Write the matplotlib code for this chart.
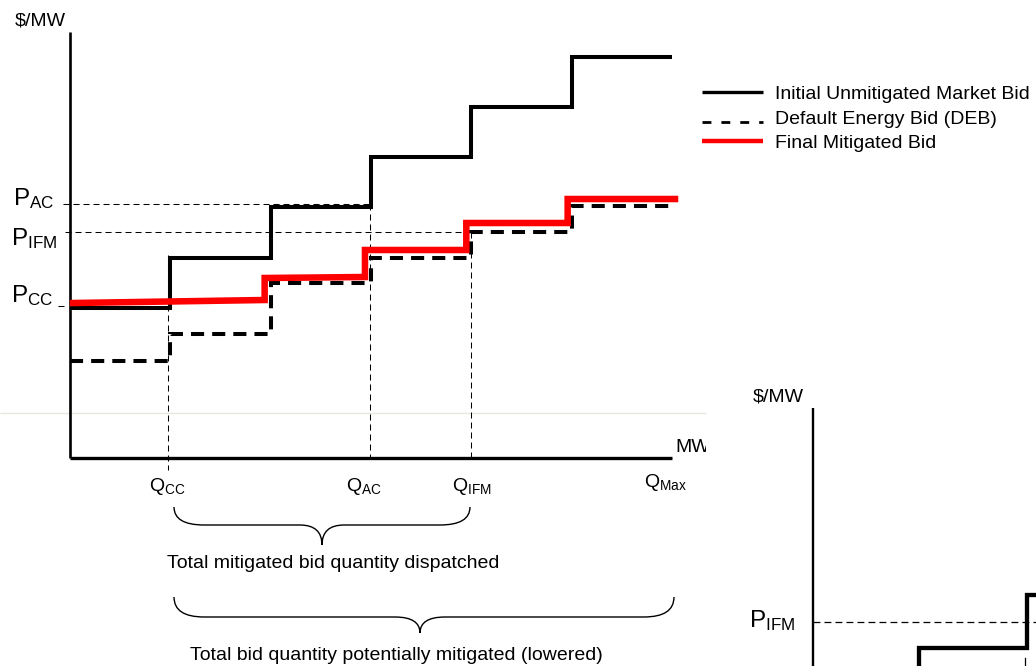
import matplotlib
matplotlib.use("Agg")
import matplotlib.pyplot as plt
import matplotlib.transforms as mtransforms
from matplotlib.path import Path
from matplotlib.patches import PathPatch

plt.rcParams['font.family'] = ['Liberation Sans', 'DejaVu Sans']
plt.rcParams['mathtext.default'] = 'regular'

# ---------------- data (quantity in MW steps, price in $/MW) ----------------
q_breaks = [0, 1, 2, 3, 4, 5, 6]
initial_bid = [30, 40, 50.2, 60.2, 70.2, 80.2]     # Initial Unmitigated Market Bid
deb_bid = [19.4, 24.8, 35, 40, 45.2, 50.4]         # Default Energy Bid (DEB)
red_q = [0.03, 1.94, 2.94, 3.95, 4.96, 6.03]       # Final Mitigated Bid step edges
red_start = [31.0, 36.0, 41.6, 47.0, 51.8]
red_end = [31.6, 36.2, 41.6, 47.0, 51.8]

q_cc, q_ac, q_ifm, q_max = 0.98, 2.99, 4.0, 6.0
p_cc, p_ac, p_ifm = 30.4, 50.8, 45.2

legend_labels = ["Initial Unmitigated Market Bid", "Default Energy Bid (DEB)", "Final Mitigated Bid"]
brace_labels = ["Total mitigated bid quantity dispatched",
                "Total bid quantity potentially mitigated (lowered)"]

# second (partially visible) diagram
inset_axis_q = 7.405
inset_q = [8.46, 9.54, 9.75]
inset_p = [-38.0, -27.4]
inset_p_ifm = -32.8

# ---------------- frame mapping ----------------
W, H = 1036, 666
X0, Y0, SX, SY = 70, 458, 100.33, 5.0


def qd(px):
    return (px - X0) / SX


def pd(py):
    return (Y0 - py) / SY


fig = plt.figure(figsize=(W / 100, H / 100), dpi=100)
ax = fig.add_axes([0, 0, 1, 1])
ax.set_xlim(qd(0), qd(W))
ax.set_ylim(pd(H), pd(0))
ax.axis('off')

# faint slide border line
ax.plot([qd(0), qd(706)], [pd(413), pd(413)], color='#e8e6dd', lw=1.0, solid_capstyle='butt')

# axes of main diagram
ax.plot([0, 0], [0, pd(32)], color='black', lw=1.9, solid_capstyle='butt')
ax.plot([0, q_max], [0, 0], color='black', lw=2.4, solid_capstyle='butt')

# reference dashed lines
thin = dict(color='black', lw=0.75, dashes=(5.8, 3.8))
ax.plot([qd(63), q_ac], [p_ac, p_ac], **thin)
ax.plot([qd(65), q_ifm], [p_ifm, p_ifm], **thin)
ax.plot([qd(58), qd(64)], [p_cc, p_cc], color='black', lw=0.75, solid_capstyle='butt')
ax.plot([q_cc, q_cc], [pd(255), pd(470)], **thin)
ax.plot([q_ac, q_ac], [p_ac, 0], **thin)
ax.plot([q_ifm, q_ifm], [p_ifm, pd(462)], **thin)

# bids
ax.stairs(deb_bid, q_breaks, baseline=None, color='black', lw=2.9,
          linestyle=(0, (3.25, 2.0)))
ax.stairs(initial_bid, q_breaks, baseline=None, color='black', lw=2.9)
rx, ry = [], []
for i in range(len(red_start)):
    rx += [red_q[i], red_q[i + 1]]
    ry += [red_start[i], red_end[i]]
ax.plot(rx, ry, color='#ff0000', lw=4.7, solid_joinstyle='miter')

# axis labels
fs = 14
ax.text(qd(15), pd(26), r'\$/MW', fontsize=fs, ha='left', va='baseline')
mw = ax.text(qd(675), pd(452), 'MW', fontsize=fs, ha='left', va='baseline')
mw.set_clip_box(mtransforms.TransformedBbox(
    mtransforms.Bbox.from_extents(qd(0), pd(H), qd(706), pd(0)), ax.transData))
mw.set_clip_on(True)

fsP = 17.5
ax.text(qd(13), pd(205), r'$P_{AC}$', fontsize=fsP, ha='left', va='baseline')
ax.text(qd(11), pd(245), r'$P_{IFM}$', fontsize=fsP, ha='left', va='baseline')
ax.text(qd(11), pd(302), r'$P_{CC}$', fontsize=fsP, ha='left', va='baseline')

fsQ = 14
ax.text(qd(149), pd(491), r'$Q_{CC}$', fontsize=fsQ, ha='left', va='baseline')
ax.text(qd(346), pd(491), r'$Q_{AC}$', fontsize=fsQ, ha='left', va='baseline')
ax.text(qd(452), pd(491), r'$Q_{IFM}$', fontsize=fsQ, ha='left', va='baseline')
ax.text(qd(644), pd(487), r'$Q_{Max}$', fontsize=fsQ, ha='left', va='baseline')

# legend
lx = [qd(702), qd(763)]
ax.plot(lx, [pd(92)] * 2, color='black', lw=2.4, solid_capstyle='butt')
ax.plot(lx, [pd(122)] * 2, color='black', lw=2.0, linestyle=(0, (3.2, 3.6)))
ax.plot(lx, [pd(141)] * 2, color='#ff0000', lw=3.2, solid_capstyle='butt')
for lab, b in zip(legend_labels, [99, 124, 148]):
    ax.text(qd(775), pd(b), lab, fontsize=fs, ha='left', va='baseline')


# braces
def brace(q0, q1, qm, ptop, pflat, ptip, r_end, r_tip):
    verts = [(q0, ptop), (q0, pflat), (q0 + r_end, pflat),
             (qm - r_tip, pflat), (qm, pflat), (qm, ptip),
             (qm, pflat), (qm + r_tip, pflat),
             (q1 - r_end, pflat), (q1, pflat), (q1, ptop)]
    codes = [Path.MOVETO, Path.CURVE3, Path.CURVE3, Path.LINETO,
             Path.CURVE3, Path.CURVE3, Path.CURVE3, Path.CURVE3,
             Path.LINETO, Path.CURVE3, Path.CURVE3]
    ax.add_patch(PathPatch(Path(verts, codes), fill=False, lw=1.0, edgecolor='black'))


brace(qd(174), qd(470), qd(322), pd(507), pd(525), pd(545), 0.30, 0.22)
brace(qd(174), qd(674), qd(420), pd(597), pd(617), pd(633), 0.30, 0.25)
ax.text(qd(167), pd(568), brace_labels[0], fontsize=fs, ha='left', va='baseline')
ax.text(qd(190), pd(660), brace_labels[1], fontsize=fs, ha='left', va='baseline')

# second diagram (partially visible)
ax.plot([inset_axis_q, inset_axis_q], [pd(408), pd(H + 5)], color='black', lw=1.7,
        solid_capstyle='butt')
ax.plot([inset_axis_q, qd(W + 5)], [inset_p_ifm, inset_p_ifm], color='black', lw=0.9,
        dashes=(5.5, 3.3))
ax.plot([inset_q[0], inset_q[0], inset_q[1], inset_q[1], inset_q[2]],
        [pd(H + 5), inset_p[0], inset_p[0], inset_p[1], inset_p[1]],
        color='black', lw=3.1, solid_joinstyle='miter')
ax.plot([qd(1025), qd(1025)], [pd(658), pd(H + 2)], color='black', lw=0.9)
ax.text(qd(753), pd(402), r'\$/MW', fontsize=fs, ha='left', va='baseline')
ax.text(qd(749), pd(627), r'$P_{IFM}$', fontsize=fsP, ha='left', va='baseline')

fig.savefig('out.png', dpi=100)
